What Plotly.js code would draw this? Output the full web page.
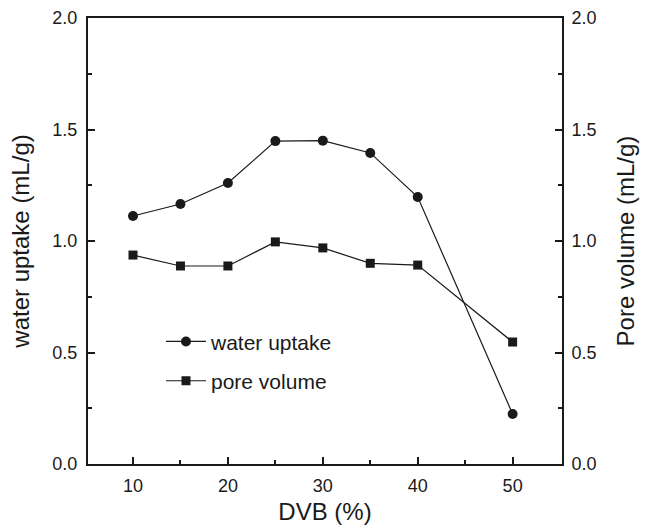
<!DOCTYPE html>
<html>
<head>
<meta charset="utf-8">
<script src="https://cdn.plot.ly/plotly-3.0.1.min.js"></script>
<style>html,body{margin:0;padding:0;background:#fff;}#chart{width:645px;height:525px;}</style>
</head>
<body>
<div id="chart"></div>
<script>
var dvb = [10, 15, 20, 25, 30, 35, 40, 50];
var waterUptake = [1.112, 1.166, 1.26, 1.448, 1.45, 1.395, 1.197, 0.224];
var poreVolume = [0.937, 0.888, 0.888, 0.996, 0.969, 0.90, 0.892, 0.547];
var yTicks = [0, 0.5, 1.0, 1.5, 2.0];
var yTickText = ["0.0", "0.5", "1.0", "1.5", "2.0"];
var xTicks = [10, 20, 30, 40, 50];

var fontFam = "Liberation Sans, Arial, sans-serif";
var traces = [
  {x: dvb, y: waterUptake, name: "water uptake", legendgroup: "a", type: "scatter", mode: "lines+markers",
   line: {color: "#1a1a1a", width: 1.2}, marker: {symbol: "circle", size: 10, color: "#1a1a1a"}},
  {x: dvb, y: poreVolume, name: "pore volume", legendgroup: "b", type: "scatter", mode: "lines+markers", yaxis: "y2",
   line: {color: "#1a1a1a", width: 1.2}, marker: {symbol: "square", size: 9, color: "#1a1a1a"}}
];
var axisCommon = {
  showgrid: false, zeroline: false, showline: true, linecolor: "#1a1a1a", linewidth: 2,
  ticks: "inside", ticklen: 7, tickwidth: 2, tickcolor: "#1a1a1a",
  tickfont: {family: fontFam, size: 18, color: "#1a1a1a"}
};
var layout = {
  width: 645, height: 525,
  margin: {l: 88, r: 83, t: 18, b: 61},
  paper_bgcolor: "#fff", plot_bgcolor: "#fff",
  font: {family: fontFam, color: "#1a1a1a"},
  showlegend: true,
  legend: {x: 0.154, y: 0.32, xanchor: "left", yanchor: "top", bgcolor: "rgba(0,0,0,0)",
           font: {family: fontFam, size: 21, color: "#1a1a1a"}, tracegroupgap: 9, itemwidth: 40},
  xaxis: Object.assign({}, axisCommon, {
    range: [5.26, 55.2], tickvals: xTicks, mirror: true, ticklabelstandoff: 4,
    minor: {tickvals: [15, 25, 35, 45], ticks: "inside", ticklen: 4, tickwidth: 2, tickcolor: "#1a1a1a"},
    title: {text: "DVB (%)", font: {family: fontFam, size: 24, color: "#1a1a1a"}, standoff: 9}
  }),
  yaxis: Object.assign({}, axisCommon, {
    range: [0, 2.0], tickvals: yTicks, ticktext: yTickText, ticklabelstandoff: 5,
    minor: {tickvals: [0.25, 0.75, 1.25, 1.75], ticks: "inside", ticklen: 4, tickwidth: 2, tickcolor: "#1a1a1a"},
    title: {text: "water uptake (mL/g)", font: {family: fontFam, size: 24, color: "#1a1a1a"}, standoff: 16}
  }),
  yaxis2: Object.assign({}, axisCommon, {
    range: [0, 2.0], tickvals: yTicks, ticktext: yTickText, overlaying: "y", side: "right", ticklabelstandoff: 4,
    minor: {tickvals: [0.25, 0.75, 1.25, 1.75], ticks: "inside", ticklen: 4, tickwidth: 2, tickcolor: "#1a1a1a"},
    title: {text: "Pore volume (mL/g)", font: {family: fontFam, size: 24, color: "#1a1a1a"}, standoff: 22}
  })
};
Plotly.newPlot("chart", traces, layout, {displayModeBar: false, staticPlot: true});
</script>
</body>
</html>
